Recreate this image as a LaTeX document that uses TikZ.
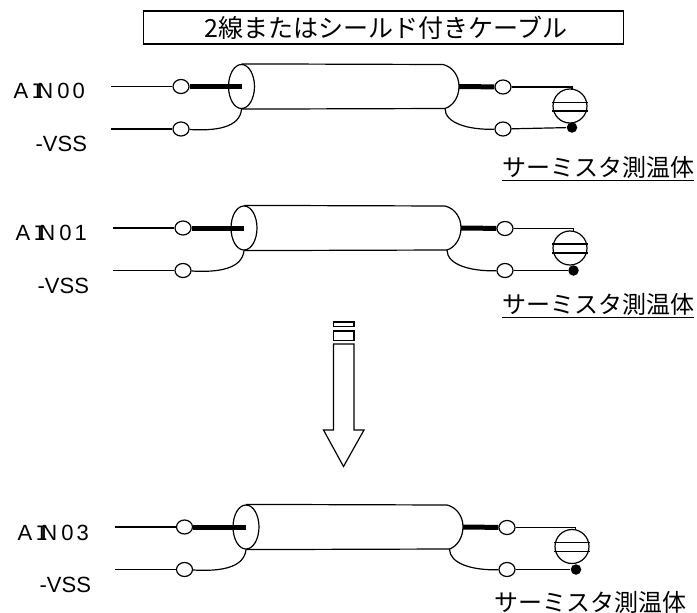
\documentclass[tikz,border=0pt]{standalone}
\usepackage{fontspec}
\setmainfont{Liberation Sans}
\newfontfamily\jpfont{Noto Sans CJK JP}
\newfontfamily\monofont{Liberation Mono}
\usetikzlibrary{shapes.geometric}
\newcommand{\ainlabel}[1]{A\kern3pt{\monofont I}\kern-7pt N\kern4pt #1}
\tikzset{
    lbl/.style={font=\fontsize{22}{22}\selectfont,inner sep=0pt,anchor=base west},
    jptext/.style={font=\jpfont\fontsize{24}{24}\selectfont,inner sep=0pt},
    term/.style={draw,ellipse,fill=white,minimum width=16pt,minimum height=14pt,inner sep=0pt},
    shield/.style={draw,ellipse,minimum width=26pt,minimum height=44pt,inner sep=0pt},
    sensor/.style={draw,circle,minimum size=34pt,inner sep=0pt},
    blob/.style={circle,fill=black,minimum size=10.5pt,inner sep=0pt},
    wire/.style={line width=1.2pt},
    fatwire/.style={line width=5pt},
}
\begin{document}
\begin{tikzpicture}[x=1pt,y=-1pt,line width=1.2pt]
    \useasboundingbox (0,0) rectangle (697,613);

    \node[draw,minimum width=480pt,minimum height=33pt,inner sep=0pt] (title) at (383.5,27.5) {};
    \node[jptext,font=\jpfont\fontsize{25}{25}\selectfont] (titletext) at (386,27.5) {2線またはシールド付きケーブル};

    % AIN00
    \node[lbl] (ain0) at (13,98) {\ainlabel{0\kern3pt 0}};
    \node[lbl] (vss0) at (35,151) {-VSS};
    \coordinate (ainend0) at (111,86.5);
    \coordinate (vssend0) at (111,129);
    \node[shield] (shield0) at (241.5,86.5) {};
    \node[term] (ta0) at (181,86.5) {};
    \node[term] (tb0) at (181,129) {};
    \node[term] (tc0) at (503,87) {};
    \node[term] (td0) at (503,129) {};
    \node[blob] (blob0) at (572,127.5) {};
    \node[sensor,fill=white] (sensor0) at (570,106) {};
    \coordinate (capend0) at (459,86.5);
    \coordinate (lead0) at (572,89.5);
    \draw (shield0.north) -- (443,64.5) .. controls (453,67) and (459,76) .. (capend0) .. controls (459,97) and (453,106) .. (445,108.5) -- (shield0.south);
    \draw[fatwire] (ta0) -- (shield0.center);
    \draw[fatwire] (capend0) -- (tc0);
    \draw[wire] (ainend0) -- (ta0);
    \draw[wire] (vssend0) -- (tb0);
    \draw[wire] (tb0) .. controls (215,131) and (240,128) .. (shield0.south);
    \draw[wire] (445,108.5) .. controls (445,123) and (468,130) .. (td0);
    \draw[wire] (tc0) -| (lead0);
    \draw[wire] (td0) -- (blob0);
    \draw[wire] (sensor0.west |- 0,102.5) -- (sensor0.east |- 0,102.5);
    \draw[wire] (sensor0.west |- 0,111) -- (sensor0.east |- 0,111);
    \node[jptext,anchor=east] (name0) at (695,167) {サーミスタ測温体};
    \draw[wire] (name0.south west) ++(0,2) -- ++(192,0);

    % AIN01
    \node[lbl] (ain1) at (15,240) {\ainlabel{0\kern3pt 1}};
    \node[lbl] (vss1) at (37,293) {-VSS};
    \coordinate (ainend1) at (113,228);
    \coordinate (vssend1) at (113,270.5);
    \node[shield] (shield1) at (244,228) {};
    \node[term] (ta1) at (183,228) {};
    \node[term] (tb1) at (183,270.5) {};
    \node[term] (tc1) at (505,228.5) {};
    \node[term] (td1) at (505,270.5) {};
    \node[blob] (blob1) at (573.5,270.5) {};
    \node[sensor] (sensor1) at (570,248) {};
    \coordinate (capend1) at (461,228);
    \coordinate (lead1) at (573.5,231);
    \draw (shield1.north) -- (445,206) .. controls (455,208.5) and (461,217.5) .. (capend1) .. controls (461,238.5) and (455,247.5) .. (447,250) -- (shield1.south);
    \draw[fatwire] (ta1) -- (shield1.center);
    \draw[fatwire] (capend1) -- (tc1);
    \draw[wire] (ainend1) -- (ta1);
    \draw[wire] (vssend1) -- (tb1);
    \draw[wire] (tb1) .. controls (217,272.5) and (242,269.5) .. (shield1.south);
    \draw[wire] (447,250) .. controls (447,264.5) and (470,271.5) .. (td1);
    \draw[wire] (tc1) -| (lead1);
    \draw[wire] (td1) -- (blob1);
    \draw[wire] (sensor1.west |- 0,244) -- (sensor1.east |- 0,244);
    \draw[wire] (sensor1.west |- 0,253) -- (sensor1.east |- 0,253);
    \node[jptext,anchor=east] (name1) at (695,304) {サーミスタ測温体};
    \draw[wire] (name1.south west) ++(0,2) -- ++(192,0);

    % down arrow
    \draw (333.5,322) rectangle (354,326.5);
    \draw (333.5,331) rectangle (354,340.5);
    \draw (333.5,344) -- (354,344) -- (354,430) -- (364,430) -- (343.5,466.5) -- (323.5,430) -- (333.5,430) -- cycle;

    % AIN03
    \node[lbl] (ain3) at (17,540) {\ainlabel{0\kern3pt 3}};
    \node[lbl] (vss3) at (39,592) {-VSS};
    \coordinate (ainend3) at (115,527);
    \coordinate (vssend3) at (115,569.5);
    \node[shield] (shield3) at (246,527) {};
    \node[term] (ta3) at (184.5,527) {};
    \node[term] (tb3) at (184.5,569.5) {};
    \node[term] (tc3) at (507,527.5) {};
    \node[term] (td3) at (507,569.5) {};
    \node[blob] (blob3) at (576,569.5) {};
    \node[sensor] (sensor3) at (572,546.5) {};
    \coordinate (capend3) at (463,527);
    \coordinate (lead3) at (575.5,530);
    \draw (shield3.north) -- (447,505) .. controls (457,507.5) and (463,516.5) .. (capend3) .. controls (463,537.5) and (457,546.5) .. (449.5,549) -- (shield3.south);
    \draw[fatwire] (ta3) -- (shield3.center);
    \draw[fatwire] (capend3) -- (tc3);
    \draw[wire] (ainend3) -- (ta3);
    \draw[wire] (vssend3) -- (tb3);
    \draw[wire] (tb3) .. controls (219,571.5) and (244,568.5) .. (shield3.south);
    \draw[wire] (449.5,549) .. controls (449.5,563.5) and (472,570.5) .. (td3);
    \draw[wire] (tc3) -| (lead3);
    \draw[wire] (td3) -- (blob3);
    \draw[wire] (sensor3.west |- 0,542.5) -- (sensor3.east |- 0,542.5);
    \draw[wire] (sensor3.west |- 0,551.5) -- (sensor3.east |- 0,551.5);
    \node[jptext,anchor=east] (name3) at (687,602) {サーミスタ測温体};
\end{tikzpicture}
\end{document}
